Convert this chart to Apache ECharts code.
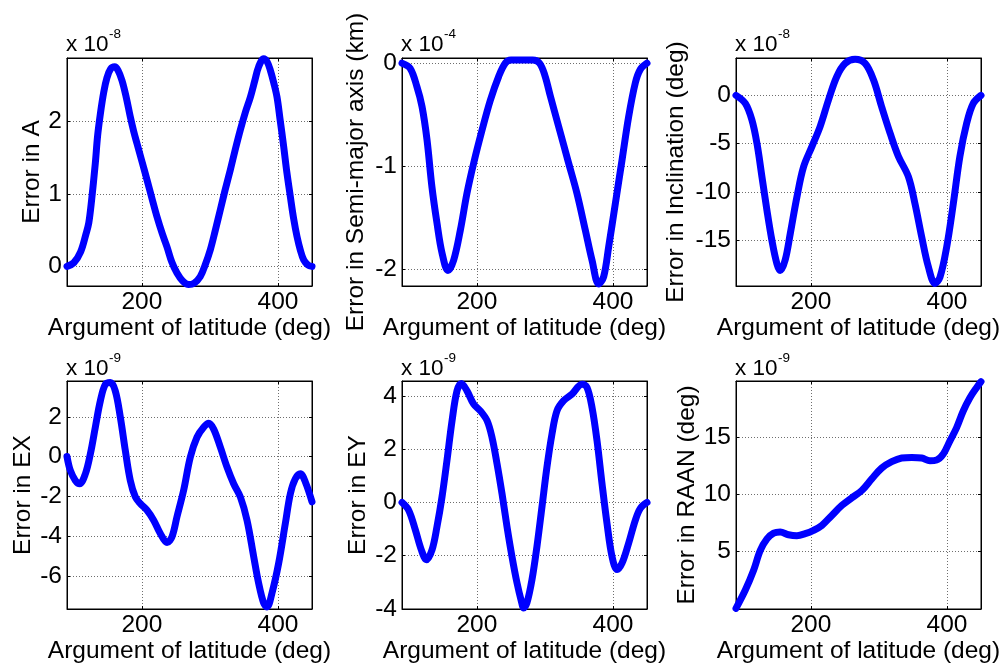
<!DOCTYPE html>
<html><head><meta charset="utf-8">
<script src="https://cdn.jsdelivr.net/npm/echarts@6/dist/echarts.min.js"></script>
<style>html,body{margin:0;padding:0;background:#fff}#c{width:1005px;height:668px}</style>
</head><body><div id="c"></div>
<script>
// ---- data ----
const xTicks = [200, 400];

const xA = [90,100,110,118,122,126,131.6,135,139,144,148.8,154,160,165,170.8,177,183,188,192.9,200,207.6,215,222,230,236.9,244,251.6,260,268.8,277,285.9,293,300.6,308,315.3,322,330,337,344.7,352,359.4,366,371.6,379,384,388.8,394,398.6,403,408.4,413,418.2,423,428,433,437.8,444,450];
const errA = [0,0.05,0.2,0.45,0.6,0.9,1.42,1.8,2.1,2.4,2.6,2.72,2.75,2.7,2.56,2.33,2.06,1.86,1.69,1.45,1.19,0.93,0.69,0.45,0.27,0.06,-0.09,-0.2,-0.25,-0.23,-0.14,0.02,0.23,0.5,0.78,1.04,1.33,1.6,1.88,2.12,2.33,2.56,2.75,2.86,2.82,2.7,2.52,2.33,2.03,1.65,1.3,0.96,0.66,0.41,0.22,0.09,0.02,0];
const ticksA = [0, 1, 2];

const xSMA = [90,102,112,119.4,126.7,134,141.4,148.8,157.6,165.9,175.7,185.5,195.3,207.6,219.8,232,241.8,250,266,282,292,300,308,320,334.9,347,359.4,369.2,379,386.3,393.7,403.5,413.3,423,432.9,440.2,450];
const errSMA = [0,-0.05,-0.23,-0.42,-0.74,-1.2,-1.55,-1.84,-2.01,-1.91,-1.62,-1.26,-0.97,-0.65,-0.36,-0.13,0,0.03,0.03,0.03,0,-0.12,-0.32,-0.61,-0.97,-1.26,-1.62,-1.91,-2.14,-2.07,-1.78,-1.36,-0.94,-0.52,-0.19,-0.06,0];
const ticksSMA = [-2, -1, 0];

const xInc = [90,103.7,113.4,120.8,128.1,135.5,142.8,150.1,155,162.3,169.7,179.5,189.2,201.5,213.7,225.9,238,250.4,265,279.7,292,304,316.4,328.6,343.3,353,362.8,372.6,382.4,389.7,399.5,409.3,419,428.9,438.6,450];
const errInc = [0,-0.83,-2.55,-4.97,-8.4,-11.9,-15,-17.4,-18.1,-17,-14.3,-10.5,-7.4,-5.3,-3.2,-0.48,1.93,3.3,3.72,3.3,1.6,-1.17,-3.9,-6.3,-8.4,-11.2,-14.6,-17.7,-19.45,-18.8,-15.7,-11.2,-6.3,-2.9,-0.83,0];
const ticksInc = [-15, -10, -5, 0];

const xEX = [90,94.9,102.2,108.6,117,124.3,131.6,139,146.3,153.7,161,168.4,175.7,183,190.4,197.8,207.6,217.3,227.1,237,244.3,251.6,261.4,271.2,281,290.8,298.2,305.5,315.3,325.1,334.9,344.7,354.5,364.3,371.6,379,383.9,391.2,401,410.8,418.2,425.5,432.9,440.2,450];
const errEX = [0,-0.7,-1.2,-1.37,-0.87,0.13,1.47,2.8,3.63,3.72,3.3,1.97,0.3,-1.2,-2.03,-2.37,-2.7,-3.2,-3.87,-4.33,-4.03,-3.03,-1.7,-0.03,0.97,1.47,1.67,1.38,0.47,-0.53,-1.37,-2.03,-3.2,-5.03,-6.37,-7.37,-7.57,-6.87,-5.37,-3.37,-1.87,-1.12,-0.87,-1.28,-2.28];
const ticksEX = [-6, -4, -2, 0, 2];

const xEY = [90,99.8,109.6,118.4,125.8,134.1,141.4,148.8,156.1,163.5,170.8,177.2,185.5,195.3,205.1,215,222.2,229.6,236.9,244.3,251.6,259,265.3,268.8,273.6,281,288.3,295.7,303,310.4,317.7,327.5,339.8,354.5,361.8,369.2,376.5,383.9,391.2,398.6,406,413.3,423,432.9,440.2,450];
const errEY = [0,-0.29,-1.03,-1.78,-2.15,-1.78,-0.91,0.21,1.58,3.06,4.19,4.47,4.19,3.69,3.44,3.07,2.45,1.46,0.34,-0.91,-2.03,-3.02,-3.7,-3.96,-3.77,-2.9,-1.65,-0.16,1.33,2.57,3.44,3.82,4.07,4.44,4.32,3.57,2.33,0.71,-0.78,-2.03,-2.52,-2.28,-1.53,-0.66,-0.22,0];
const ticksEY = [-4, -2, 0, 2, 4];

const xRAAN = [90,103.7,115.9,125.7,135.5,145.3,155,167.2,179.5,191.7,203.9,216.1,230.8,245.5,260.1,274.8,289.5,304.2,318.8,333.5,348.2,362.8,375,384.8,394.6,404.4,414.2,423.9,433.7,443.5,450];
const errRAAN = [0.06,1.65,3.38,5.1,6.1,6.6,6.7,6.47,6.39,6.56,6.85,7.28,8.15,9.02,9.68,10.32,11.33,12.28,12.83,13.15,13.2,13.15,12.92,12.98,13.5,14.65,15.8,17.25,18.4,19.28,19.8];
const ticksRAAN = [5, 10, 15];

// ---- panels ----
const panels = [
  {x: xA,    y: errA,    ticks: ticksA,    min: -0.27, max: 2.87,  exp: '-8', name: 'Error in A',                    gap: 19},
  {x: xSMA,  y: errSMA,  ticks: ticksSMA,  min: -2.16, max: 0.05,  exp: '-4', name: 'Error in Semi-major axis (km)', gap: 33},
  {x: xInc,  y: errInc,  ticks: ticksInc,  min: -19.7, max: 3.86,  exp: '-8', name: 'Error in Inclination (deg)',    gap: 47},
  {x: xEX,   y: errEX,   ticks: ticksEX,   min: -7.67, max: 3.8,   exp: '-9', name: 'Error in EX',                   gap: 31},
  {x: xEY,   y: errEY,   ticks: ticksEY,   min: -4,    max: 4.56,  exp: '-9', name: 'Error in EY',                   gap: 31},
  {x: xRAAN, y: errRAAN, ticks: ticksRAAN, min: 0,     max: 19.86, exp: '-9', name: 'Error in RAAN (deg)',           gap: 36}
];

const colLeft = [67, 402, 736];
const rowTop = [58, 381];
const W = 245, H = 228;
const FONT = 'Liberation Sans, Arial, Helvetica, sans-serif';
const FS = 24.5;

const grids = [], xAxes = [], yAxes = [], series = [], titles = [];
const gridLine = {show: true, lineStyle: {color: '#6e6e6e', type: [1, 2], width: 1}};
const lineBlack = {show: true, onZero: false, lineStyle: {color: '#000', width: 1}};

panels.forEach((p, i) => {
  const c = i % 3, r = Math.floor(i / 3);
  const left = colLeft[c], top = rowTop[r];
  grids.push({left: left, top: top, width: W, height: H, containLabel: false, outerBoundsMode: 'none',
              show: true, borderColor: '#000', borderWidth: 1, backgroundColor: '#fff'});
  xAxes.push({gridIndex: i, type: 'value', min: 90, max: 450, position: 'bottom',
    axisLine: lineBlack,
    axisTick: {show: true, inside: true, length: 3, customValues: xTicks, lineStyle: {color: '#000'}},
    axisLabel: {show: true, customValues: xTicks, color: '#000', fontSize: FS, fontFamily: FONT, margin: 4},
    splitLine: gridLine,
    name: 'Argument of latitude (deg)', nameLocation: 'middle', nameGap: 26,
    nameTextStyle: {color: '#000', fontSize: FS, fontFamily: FONT}});
  xAxes.push({gridIndex: i, type: 'value', min: 90, max: 450, position: 'top',
    axisLine: lineBlack,
    axisTick: {show: true, inside: true, length: 3, customValues: xTicks, lineStyle: {color: '#000'}},
    axisLabel: {show: false}, splitLine: {show: false}});
  yAxes.push({gridIndex: i, type: 'value', min: p.min, max: p.max, position: 'left',
    axisLine: lineBlack,
    axisTick: {show: true, inside: true, length: 3, customValues: p.ticks, lineStyle: {color: '#000'}},
    axisLabel: {show: true, customValues: p.ticks, color: '#000', fontSize: FS, fontFamily: FONT, margin: 5},
    splitLine: gridLine,
    name: p.name, nameLocation: 'middle', nameGap: p.gap,
    nameTextStyle: {color: '#000', fontSize: FS, fontFamily: FONT}});
  yAxes.push({gridIndex: i, type: 'value', min: p.min, max: p.max, position: 'right',
    axisLine: lineBlack,
    axisTick: {show: true, inside: true, length: 3, customValues: p.ticks, lineStyle: {color: '#000'}},
    axisLabel: {show: false}, splitLine: {show: false}});
  series.push({type: 'line', xAxisIndex: 2 * i, yAxisIndex: 2 * i,
    data: p.x.map((v, k) => [v, p.y[k]]),
    showSymbol: false, smooth: 0.35, clip: true,
    lineStyle: {color: '#0000ff', width: 7, cap: 'round', join: 'round'}, itemStyle: {color: '#0000ff'},
    animation: false, silent: true});
  const tTop = r === 0 ? 33 : 357;
  titles.push({text: 'x 10', left: left - 1, top: tTop, padding: 0,
    textStyle: {color: '#000', fontSize: 22.5, fontWeight: 'normal', fontFamily: FONT}});
  titles.push({text: p.exp, left: left + 42, top: tTop - 6, padding: 0,
    textStyle: {color: '#000', fontSize: 13.5, fontWeight: 'normal', fontFamily: FONT}});
});

const chart = echarts.init(document.getElementById('c'), null, {renderer: 'canvas'});
chart.setOption({
  backgroundColor: '#fff',
  animation: false,
  title: titles,
  grid: grids,
  xAxis: xAxes,
  yAxis: yAxes,
  series: series
});
</script>
</body></html>
